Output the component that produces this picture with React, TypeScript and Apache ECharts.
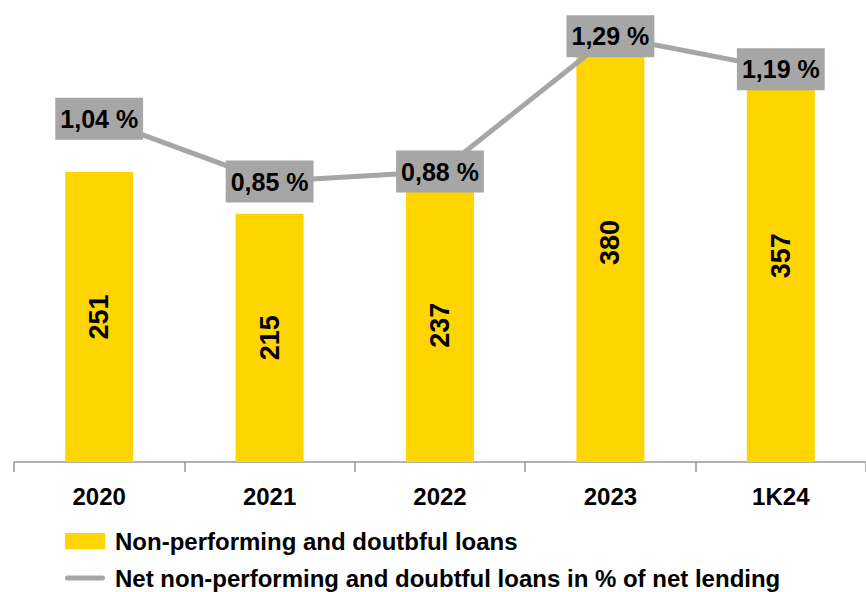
import React, { useEffect, useRef } from "react";
import * as echarts from "echarts";

const categories = ["2020", "2021", "2022", "2023", "1K24"];
const loans = [251, 215, 237, 380, 357];
const ratioPct = [1.04, 0.85, 0.88, 1.29, 1.19];
const barName = "Non-performing and doutbful loans";
const lineName = "Net non-performing and doubtful loans in % of net lending";

const FONT = "'Liberation Sans', Arial, sans-serif";
const YELLOW = "#FFD500";
const GREY = "#A6A6A6";
const LINE_ICON = "path://M2.5,0 H37.5 A2.5,2.5 0 0 1 37.5,5 H2.5 A2.5,2.5 0 0 1 2.5,0 Z";

export default function App() {
  const ref = useRef<HTMLDivElement>(null);
  useEffect(() => {
    if (!ref.current) return;
    const chart = echarts.init(ref.current, undefined, { renderer: "svg" });
    chart.setOption({
      animation: false,
      backgroundColor: "#ffffff",
      grid: { left: 14, right: -3, top: -2, bottom: 130, containLabel: false },
      legend: {
        orient: "vertical",
        left: 65,
        top: 529,
        padding: 0,
        height: 80,
        itemWidth: 40,
        itemHeight: 16,
        itemGap: 13,
        textStyle: {
          fontFamily: FONT,
          fontSize: 24,
          fontWeight: "bold",
          color: "#000",
          padding: [0, 0, 0, 5],
        },
        data: [
          { name: barName, icon: "rect" },
          { name: lineName, icon: LINE_ICON, itemStyle: { color: GREY } },
        ],
      },
      xAxis: {
        type: "category",
        data: categories,
        axisLine: { lineStyle: { color: "#999999", width: 1.5 } },
        axisTick: { show: true, length: 10, lineStyle: { color: "#999999", width: 1.5 } },
        axisLabel: { fontFamily: FONT, fontSize: 24, fontWeight: "bold", color: "#000", margin: 22 },
      },
      yAxis: [
        { type: "value", min: 0, max: 400, show: false, splitLine: { show: false } },
        { type: "value", min: 0, max: 1.4, show: false, splitLine: { show: false } },
      ],
      series: [
        {
          name: barName,
          type: "bar",
          data: loans,
          barWidth: 68,
          itemStyle: { color: YELLOW },
          label: {
            show: true,
            position: "inside",
            rotate: 90,
            fontFamily: FONT,
            fontSize: 27,
            fontWeight: "bold",
            color: "#000",
          },
          z: 2,
        },
        {
          name: lineName,
          type: "line",
          yAxisIndex: 1,
          data: ratioPct,
          symbol: "circle",
          symbolSize: 1,
          showSymbol: true,
          itemStyle: { color: GREY },
          lineStyle: { color: GREY, width: 5 },
          label: {
            show: true,
            position: "inside",
            fontFamily: FONT,
            fontSize: 25,
            lineHeight: 26,
            fontWeight: "bold",
            color: "#000",
            backgroundColor: GREY,
            padding: [9, 5, 7, 5],
            formatter: (p: any) => p.value.toFixed(2).replace(".", ",") + " %",
          },
          z: 5,
        },
      ],
    });
    return () => chart.dispose();
  }, []);
  return (
    <div
      ref={ref}
      style={{ position: "fixed", left: 0, top: 0, width: 866, height: 592 }}
    />
  );
}
